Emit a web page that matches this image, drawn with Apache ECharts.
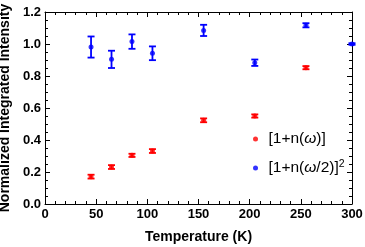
<!DOCTYPE html>
<html>
<head>
<meta charset="utf-8">
<script src="https://cdn.jsdelivr.net/npm/echarts@6/dist/echarts.min.js"></script>
<style>
html,body{margin:0;padding:0;background:#fff;}
#chart{width:365px;height:247px;}
</style>
</head>
<body>
<div id="chart"></div>
<script>
// Data
var temps = [45, 65, 85, 105, 155, 205, 255];
var redVals = [0.171, 0.231, 0.304, 0.331, 0.523, 0.550, 0.852];
var redErr = [0.012, 0.012, 0.010, 0.012, 0.012, 0.010, 0.010];
var blueTemps = [45, 65, 85, 105, 155, 205, 255, 300];
var blueVals = [0.981, 0.904, 1.015, 0.942, 1.085, 0.883, 1.117, 1.000];
var blueErr = [0.066, 0.054, 0.045, 0.043, 0.035, 0.020, 0.013, 0.005];
var xTicks = [0, 50, 100, 150, 200, 250, 300];
var yTicks = [0.0, 0.2, 0.4, 0.6, 0.8, 1.0, 1.2];

var RED = '#ff0000', BLUE = '#0000ff';

function pts(xs, ys) { return xs.map(function (x, i) { return [x, ys[i]]; }); }
function errData(xs, ys, es) { return xs.map(function (x, i) { return [x, ys[i] - es[i], ys[i] + es[i]]; }); }

function errRender(color) {
  return function (params, api) {
    var lo = api.coord([api.value(0), api.value(1)]);
    var hi = api.coord([api.value(0), api.value(2)]);
    var w = 3.5;
    var st = { stroke: color, lineWidth: 1.8 };
    return {
      type: 'group',
      children: [
        { type: 'line', shape: { x1: lo[0], y1: lo[1], x2: hi[0], y2: hi[1] }, style: st },
        { type: 'line', shape: { x1: lo[0] - w, y1: lo[1], x2: lo[0] + w, y2: lo[1] }, style: st },
        { type: 'line', shape: { x1: hi[0] - w, y1: hi[1], x2: hi[0] + w, y2: hi[1] }, style: st }
      ]
    };
  };
}

var labelFont = { fontFamily: 'Liberation Sans, Arial, sans-serif', fontWeight: 'bold', fontSize: 13, color: '#000' };
var nameFont = { fontFamily: 'Liberation Sans, Arial, sans-serif', fontWeight: 'bold', fontSize: 14, color: '#000' };
var lineStyle = { color: '#000', width: 1 };

var chart = echarts.init(document.getElementById('chart'), null, { renderer: 'canvas' });
chart.setOption({
  animation: false,
  grid: { left: 45, right: 13, top: 12, bottom: 43, containLabel: false, outerBoundsMode: 'none' },
  legend: {
    orient: 'vertical',
    left: 248,
    top: 126,
    itemWidth: 5,
    itemHeight: 5,
    itemGap: 12,
    icon: 'circle',
    data: ['red', 'blue'],
    formatter: function (name) {
      if (name === 'red') return '{t|[1+n(}{w|ω}{t|)]}';
      return '{t|[1+n(}{w|ω}{t|/2)]}{s|2}';
    },
    textStyle: {
      fontFamily: 'Liberation Sans, Arial, sans-serif',
      fontSize: 15,
      color: '#000',
      padding: [0, 0, 0, 5.5],
      rich: {
        t: { fontSize: 15.5, fontFamily: 'Liberation Sans, Arial, sans-serif', color: '#000', lineHeight: 18 },
        w: { fontSize: 15.5, fontFamily: 'Liberation Sans, Arial, sans-serif', fontStyle: 'italic', color: '#000', lineHeight: 18 },
        s: { fontSize: 10.5, fontFamily: 'Liberation Sans, Arial, sans-serif', color: '#000', verticalAlign: 'top', lineHeight: 18, padding: [0, 0, 8, 0] }
      }
    }
  },
  xAxis: [{
    type: 'value', min: 0, max: 300, interval: 50,
    name: 'Temperature (K)', nameLocation: 'middle', nameGap: 26, nameTextStyle: nameFont,
    axisLine: { show: true, onZero: false, lineStyle: lineStyle },
    axisTick: { show: true, inside: true, length: 5, lineStyle: lineStyle },
    minorTick: { show: true, splitNumber: 5, length: 3, lineStyle: lineStyle },
    axisLabel: Object.assign({ margin: 4, formatter: function (v) { return xTicks.indexOf(v) >= 0 ? String(v) : ''; } }, labelFont),
    splitLine: { show: false }
  }, {
    type: 'value', min: 0, max: 300, interval: 50, position: 'top',
    axisLine: { show: true, onZero: false, lineStyle: lineStyle },
    axisTick: { show: true, inside: true, length: 5, lineStyle: lineStyle },
    minorTick: { show: true, splitNumber: 5, length: 3, lineStyle: lineStyle },
    axisLabel: { show: false },
    splitLine: { show: false }
  }],
  yAxis: [{
    type: 'value', min: 0, max: 1.2, interval: 0.2,
    name: 'Normalized Integrated Intensity', nameLocation: 'middle', nameGap: 28, nameTextStyle: nameFont,
    axisLine: { show: true, onZero: false, lineStyle: lineStyle },
    axisTick: { show: true, inside: true, length: 5, lineStyle: lineStyle },
    minorTick: { show: true, splitNumber: 4, length: 3, lineStyle: lineStyle },
    axisLabel: Object.assign({ margin: 4, formatter: function (v) { return v.toFixed(1); } }, labelFont),
    splitLine: { show: false }
  }, {
    type: 'value', min: 0, max: 1.2, interval: 0.2, position: 'right',
    axisLine: { show: true, onZero: false, lineStyle: lineStyle },
    axisTick: { show: true, inside: true, length: 5, lineStyle: lineStyle },
    minorTick: { show: true, splitNumber: 4, length: 3, lineStyle: lineStyle },
    axisLabel: { show: false },
    splitLine: { show: false }
  }],
  series: [
    { name: 'red', type: 'scatter', data: pts(temps, redVals), symbol: 'circle', symbolSize: 5, itemStyle: { color: RED }, z: 5 },
    { name: 'blue', type: 'scatter', data: pts(blueTemps, blueVals), symbol: 'circle', symbolSize: 5, itemStyle: { color: BLUE }, z: 5 },
    { name: 'redErr', type: 'custom', data: errData(temps, redVals, redErr), renderItem: errRender(RED), encode: { x: 0, y: [1, 2] }, z: 4 },
    { name: 'blueErr', type: 'custom', data: errData(blueTemps, blueVals, blueErr), renderItem: errRender(BLUE), encode: { x: 0, y: [1, 2] }, z: 4 }
  ]
});
</script>
</body>
</html>
